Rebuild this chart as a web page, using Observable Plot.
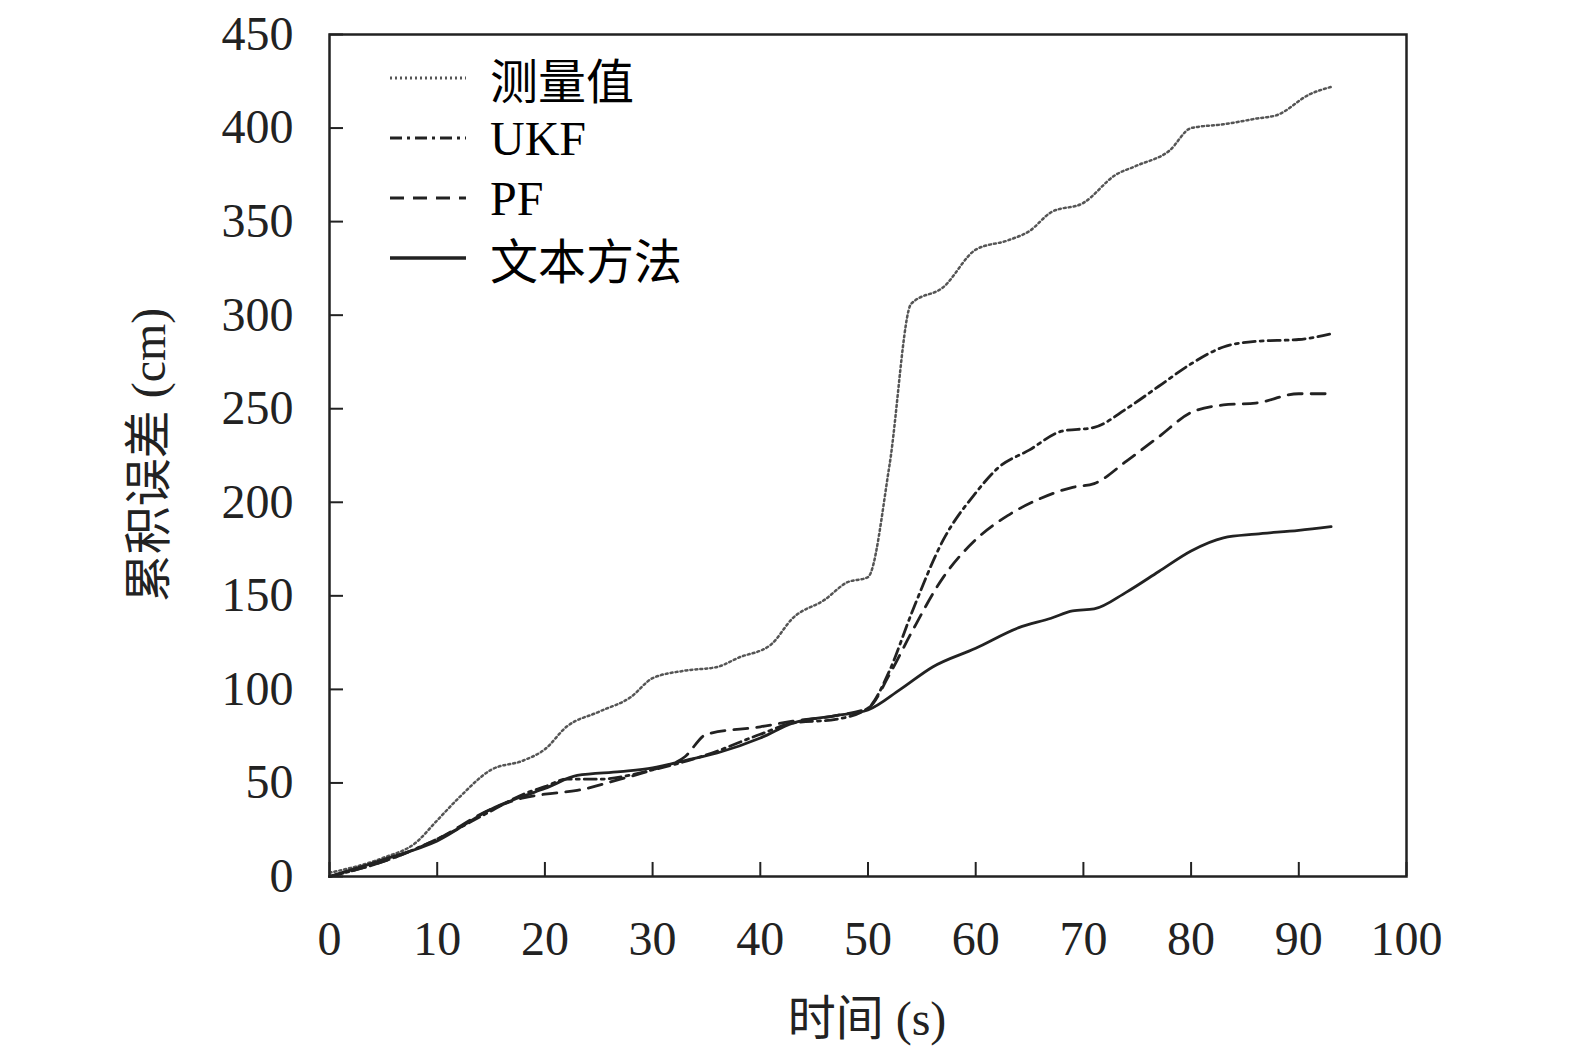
<!DOCTYPE html><html><head><meta charset="utf-8">
<script src="https://cdn.jsdelivr.net/npm/d3@7"></script>
<script src="https://cdn.jsdelivr.net/npm/@observablehq/plot@0.6"></script>
<style>body{margin:0;background:#fff;overflow:hidden}#c{position:relative;width:1575px;height:1061px}
#lg{position:absolute;left:390px;top:48px;font-family:'Liberation Serif','Noto Sans CJK SC',serif;font-size:48px}
#lg div{display:flex;align-items:center;height:60px}#lg svg{margin-right:24px}</style></head><body>
<div id="c"><div id="lg"></div></div>
<script>
const seriesNames=["测量值","UKF","PF","文本方法"];
const dashes=["2,3","12,5,3,5","14,9",null];
const measT=[0,5,8,10,12,15,18,20,22,25,28,30,33,36,38,41,43,46,48,50,52,54,57,60,63,65,67,70,73,75,78,80,83,86,88,91,93];
const measV=[2,10,18,30,42,57,62,68,80,88,96,106,110,112,117,124,138,148,157,160,220,306,315,335,340,345,355,360,375,380,388,400,402,405,407,418,422];
const ukfT=[0,5,10,15,18,20,22,25,30,35,40,43,47,50,52,54,57,60,62,65,68,71,74,77,80,83,86,90,93];
const ukfV=[0,8,20,35,44,48,52,52,57,65,76,82,84,90,110,140,180,205,218,228,238,240,250,262,274,283,286,287,290];
const pfT=[0,5,10,15,18,20,23,27,30,33,35,40,43,47,50,52,54,57,60,63,66,69,71,74,77,80,83,86,90,93];
const pfV=[0,8,20,36,42,44,46,52,57,64,76,80,83,86,90,108,130,160,180,193,202,208,210,222,235,248,252,253,258,258];
const mT=[0,5,10,15,18,20,23,27,30,33,36,40,43,47,50,53,56,60,64,67,69,71,74,77,80,83,86,90,93];
const mV=[0,9,19,36,43,47,54,56,58,62,66,74,82,86,89,100,112,122,133,138,142,143,152,163,174,181,183,185,187];
const xTicks=d3.range(0,101,10), yTicks=d3.range(0,451,50);
const S=[[measT,measV],[ukfT,ukfV],[pfT,pfV],[mT,mV]];
const font="'Liberation Serif','Noto Sans CJK SC',serif";
const marks=[Plot.frame({strokeWidth:2.5})];
S.forEach(([t,v],i)=>marks.push(Plot.line(t.map((x,j)=>({x,y:v[j]})),{x:"x",y:"y",curve:"monotone-x",stroke:i==0?"#555":"#222",strokeWidth:i==0?2.5:2.8,strokeDasharray:dashes[i]})));
marks.push(Plot.ruleX(xTicks,{x:d=>d,y1:0,y2:7.5,strokeWidth:2}));
marks.push(Plot.ruleY(yTicks,{y:d=>d,x1:0,x2:1.3,strokeWidth:2}));
marks.push(Plot.axisX(xTicks,{tickSize:0,tickPadding:44,fontSize:48,label:null}));
marks.push(Plot.axisY(yTicks,{tickSize:0,tickPadding:36,fontSize:48,label:null}));
const p=Plot.plot({width:1575,height:1061,marginLeft:329,marginRight:169,marginTop:34,marginBottom:185,
x:{domain:[0,100]},y:{domain:[0,450]},style:{fontFamily:font,color:"#222",background:"#fff"},marks});
document.getElementById("c").prepend(p);
const svg=d3.select(p);
svg.append("text").attr("x",867).attr("y",1035).attr("text-anchor","middle").attr("font-size",48).attr("fill","#222").text("时间 (s)");
svg.append("text").attr("transform","translate(165,455) rotate(-90)").attr("text-anchor","middle").attr("font-size",48).attr("fill","#222").text("累积误差 (cm)");
const lg=d3.select("#lg");
seriesNames.forEach((n,i)=>{const r=lg.append("div");const s=r.append("svg").attr("width",76).attr("height",10);
s.append("line").attr("x1",0).attr("x2",76).attr("y1",5).attr("y2",5).attr("stroke",i==0?"#555":"#222").attr("stroke-width",i==3?3.5:3).attr("stroke-dasharray",dashes[i]);
r.append("span").text(n);});
</script></body></html>
